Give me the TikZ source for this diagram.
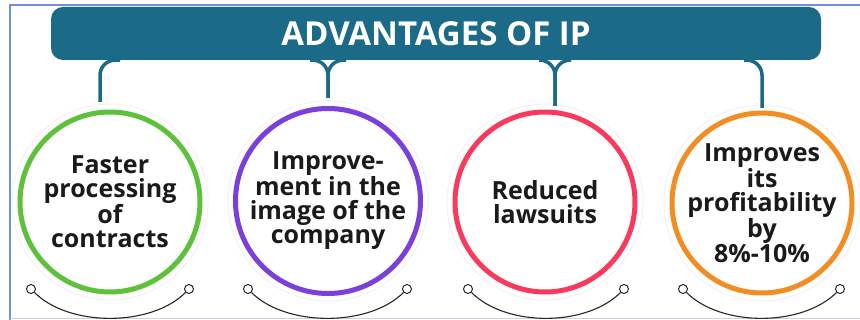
\documentclass[tikz,border=0pt]{standalone}
\usepackage{fontspec}
\IfFontExistsTF{Noto Sans Bold}
  {\setmainfont{Noto Sans}[BoldFont={Noto Sans Bold}]}
  {\setmainfont{Open Sans}[BoldFont={Open Sans Bold}]}
\definecolor{ipteal}{HTML}{1B6B88}
\definecolor{cgreen}{HTML}{5DC13B}
\definecolor{cpurple}{HTML}{7B3FDB}
\definecolor{cred}{HTML}{F93A5C}
\definecolor{corange}{HTML}{F28D23}
\definecolor{frameblue}{HTML}{6F93CF}
\definecolor{framegrey}{HTML}{C9D3E3}
\definecolor{inkdark}{HTML}{1A1A1A}
\begin{document}
\begin{tikzpicture}[x=1pt,y=1pt,
  circ/.style={circle, draw=#1, line width=5pt, minimum size=180pt, inner sep=0pt},
  lbl/.style={align=center, text=inkdark, inner sep=0pt, font=\fontsize{25}{24}\selectfont\bfseries},
  link/.style={draw=ipteal, line width=3.5pt, rounded corners=15pt},
  knob/.style={circle, draw=black!90, fill=white, line width=0.9pt, minimum size=9pt, inner sep=0pt},
  sag/.style={draw=black!85, line width=1.1pt},
  halo/.style={draw=black!5, line width=1pt}]
  % 1 px = 1 pt, y runs downwards as negative
  \useasboundingbox (0,0) rectangle (860,-320);

  % ---- frame ----
  \draw[frameblue, line width=1.5pt] (10,-320) -- (10,-5) -- (860,-5);
  \draw[framegrey, line width=1.2pt] (10,-318.5) -- (860,-318.5);

  % ---- banner ----
  \node[fill=ipteal, rounded corners=12pt, minimum width=770pt, minimum height=53pt,
        text=white, font=\fontsize{33}{33}\selectfont\bfseries] (banner) at (436,-33.5) {ADVANTAGES OF IP};

  % ---- circles ----
  \node[circ=cgreen] (c1) at (110,-202) {};
  \node[circ=cpurple, minimum size=185pt] (c2) at (328,-201) {};
  \node[circ=cred] (c3) at (545,-202) {};
  \node[circ=corange] (c4) at (762,-203) {};
  \draw[halo] (c1) circle (98);
  \draw[halo] (c2) circle (100);
  \draw[halo] (c3) circle (98);
  \draw[halo] (c4) circle (98);

  \node[lbl] (l1) at (c1) {Faster\\processing\\of\\contracts};
  \node[lbl] (l2) at (c2) {Improve-\\ment in the\\image of the\\company};
  \node[lbl] (l3) at (c3) {Reduced\\lawsuits};
  \node[lbl] (l4) at (c4) {Improves\\its\\profitability\\by\\8\%-10\%};

  % ---- banner to circles ----
  \coordinate (p1) at (100,-102);
  \coordinate (p2) at (328,-98);
  \coordinate (p3) at (555,-106);
  \coordinate (p4) at (762,-108);
  \draw[link] (banner.south -| p1) ++(20,0) -| (p1);
  \draw[link] (banner.south -| p2) ++(-18,0) -| (p2);
  \draw[link] (banner.south -| p2) ++(18,0) -| (p2);
  \draw[link] (banner.south -| p3) ++(-16,0) -| (p3);
  \draw[link] (banner.south -| p3) ++(16,0) -| (p3);
  \draw[link] (banner.south -| p4) ++(-18,0) -| (p4);

  % ---- swings under the circles ----
  \node[knob] (k1a) at (31,-289) {};
  \node[knob] (k1b) at (189,-289) {};
  \draw[sag] (k1a) .. controls +(38,-38) and +(-38,-38) .. (k1b);
  \node[knob] (k2a) at (248,-289) {};
  \node[knob] (k2b) at (407,-289) {};
  \draw[sag] (k2a) .. controls +(38,-38) and +(-38,-38) .. (k2b);
  \node[knob] (k3a) at (468,-289) {};
  \node[knob] (k3b) at (624,-289) {};
  \draw[sag] (k3a) .. controls +(38,-38) and +(-38,-38) .. (k3b);
  \node[knob] (k4a) at (683,-289) {};
  \node[knob] (k4b) at (840,-289) {};
  \draw[sag] (k4a) .. controls +(38,-38) and +(-38,-38) .. (k4b);
\end{tikzpicture}
\end{document}
